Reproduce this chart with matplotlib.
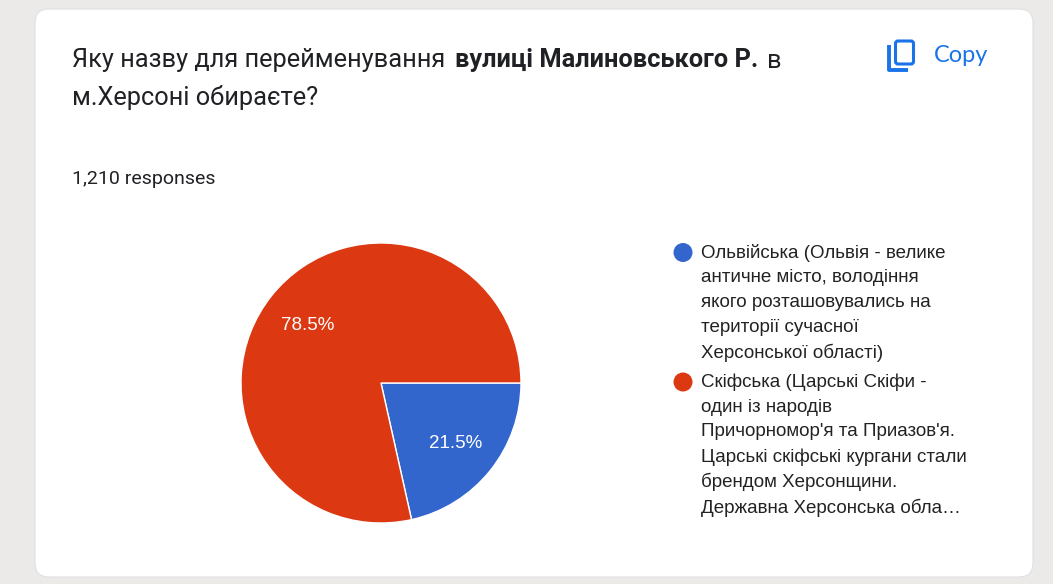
import matplotlib
matplotlib.use('Agg')
import matplotlib.pyplot as plt
from matplotlib.patches import FancyBboxPatch, Circle

W, H = 1053, 584

title_parts = ['Яку назву для перейменування', 'вулиці Малиновського Р.', 'в']
title_xs = [72, 455, 767]
title_line2 = 'м.Херсоні обираєте?'
responses = '1,210 responses'
copy_label = 'Copy'

shares = [21.5, 78.5]
pct_labels = ['21.5%', '78.5%']
colors = ['#3366cc', '#dc3912']
legend_lines = [
    ['Ольвійська (Ольвія - велике', 'античне місто, володіння', 'якого розташовувались на',
     'території сучасної', 'Херсонської області)'],
    ['Скіфська (Царські Скіфи -', 'один із народів', "Причорномор'я та Приазов'я.",
     'Царські скіфські кургани стали', 'брендом Херсонщини.', 'Державна Херсонська обла…'],
]

BG = '#ebeae8'
TEXT = '#202124'
LEGEND_TEXT = '#222222'
BLUE = '#1a73e8'

fig = plt.figure(figsize=(W / 100, H / 100), dpi=100, facecolor=BG)

# full-figure axes in pixel coordinates for the card and all the text
page = fig.add_axes([0, 0, 1, 1])
page.set_xlim(0, W)
page.set_ylim(H, 0)
page.axis('off')

card = FancyBboxPatch((35, 9), 998, 568, boxstyle='round,pad=0,rounding_size=14',
                      fc='white', ec='#dfe0e3', lw=0.8)
page.add_patch(card)

# the middle part of the title is bold
for i, part in enumerate(title_parts):
    page.text(title_xs[i], 60.5, part, family='Roboto', fontsize=18.3, color=TEXT, va='center',
              weight='bold' if i == 1 else 'normal')
page.text(72, 97, title_line2, family='Roboto', fontsize=18.3, color=TEXT, va='center')
page.text(72, 179, responses, family='Roboto', fontsize=14, color=TEXT, va='center')

# copy icon
page.add_patch(FancyBboxPatch((895.5, 41), 18, 23, boxstyle='round,pad=0,rounding_size=2.5',
                              fc='none', ec=BLUE, lw=2.2))
page.plot([889, 889, 908], [45, 69.5, 69.5], color=BLUE, lw=2.8, solid_joinstyle='round',
          solid_capstyle='butt')
page.text(934, 55.5, copy_label, family='Lato', fontsize=16.9, color=BLUE, va='center')

# legend
line_ys = [[252.5, 277.5, 302.5, 328, 353], [382, 407, 432, 457, 482, 508]]
for lines, ys, c in zip(legend_lines, line_ys, colors):
    page.add_patch(Circle((683, ys[0]), 9.5, fc=c, ec='none'))
    for line, y in zip(lines, ys):
        page.text(701, y, line, family='Liberation Sans', fontsize=13.5, color=LEGEND_TEXT,
                  va='center')

# pie, centred at (381, 383) with a radius of 140 px
pie_ax = fig.add_axes([(381 - 142) / W, 1 - (383 + 142) / H, 284 / W, 284 / H])
wedges, _ = pie_ax.pie(shares, colors=colors, startangle=0, counterclock=False, radius=140 / 142,
                       wedgeprops={'edgecolor': 'white', 'linewidth': 1})
pie_ax.set_xlim(-1, 1)
pie_ax.set_ylim(-1, 1)
pie_ax.axis('off')
pie_ax.set_zorder(1)
pie_ax.patch.set_alpha(0)

# percentage labels go on top of the wedges
pie_ax.text((455.5 - 381) / 142, (383 - 444) / 142, pct_labels[0], family='Liberation Sans',
            fontsize=13.5, color='white', ha='center', va='center')
pie_ax.text((307.5 - 381) / 142, (383 - 325) / 142, pct_labels[1], family='Liberation Sans',
            fontsize=13.5, color='white', ha='center', va='center')

fig.savefig('out.png', dpi=100, facecolor=BG)
